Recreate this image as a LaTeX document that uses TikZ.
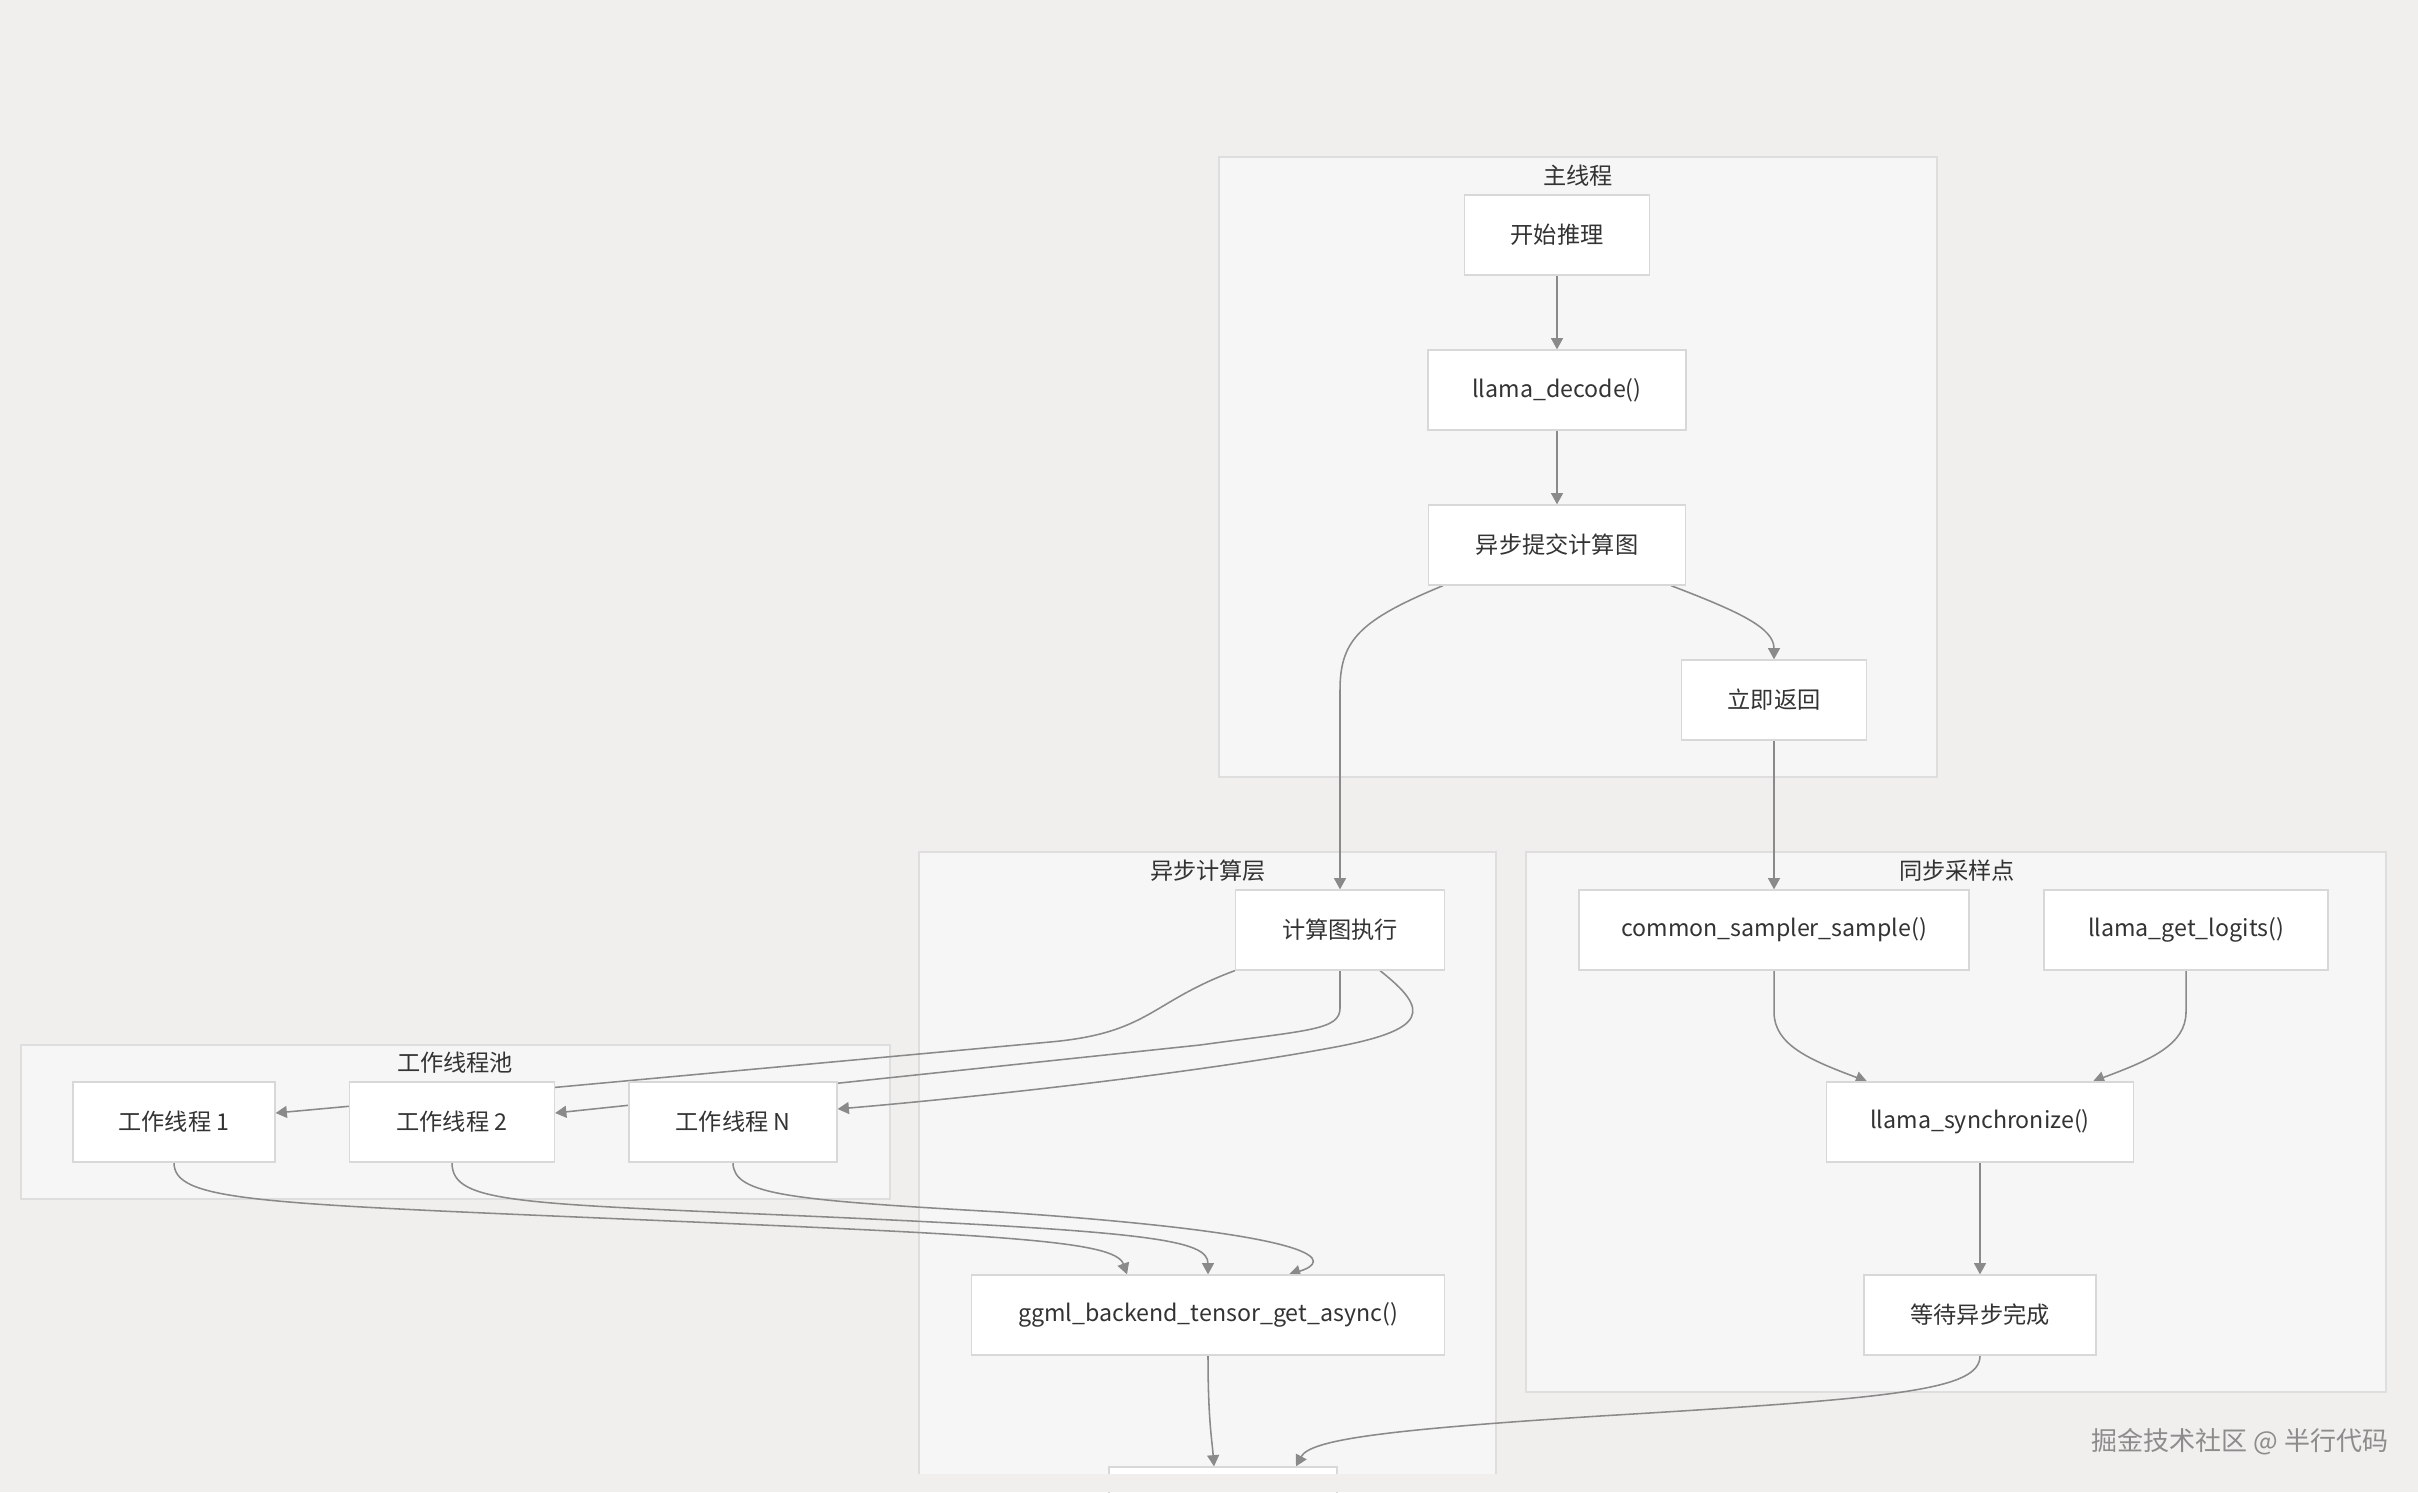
\documentclass[tikz,border=0pt]{standalone}
\usepackage{fontspec}
\setmainfont{Noto Sans CJK SC}
\usepackage{tikz}
\usetikzlibrary{arrows.meta, calc}
\pgfdeclarelayer{clusters}
\pgfdeclarelayer{edges}
\pgfsetlayers{clusters,edges,main}

\definecolor{bgcol}{RGB}{240,239,237}
\definecolor{clfill}{RGB}{246,246,246}
\definecolor{clline}{RGB}{222,222,222}
\definecolor{boxline}{RGB}{216,216,216}
\definecolor{edgecol}{RGB}{138,138,138}
\definecolor{txt}{RGB}{51,51,51}
\newcommand{\pxu}{0.025cm}

\tikzset{
  box/.style={draw=boxline, line width=0.9pt, fill=white, minimum height=80*\pxu, inner sep=0pt, text=txt, font=\fontsize{16.5}{20}\selectfont},
  cluster/.style={draw=clline, line width=0.9pt, fill=clfill},
  cltitle/.style={text=txt, font=\fontsize{16.5}{20}\selectfont},
  flow/.style={draw=edgecol, line width=1.1pt, -{Triangle[length=8pt, width=8.5pt]}},
}

\begin{document}
\begin{tikzpicture}[x=\pxu, y=-\pxu]
  \useasboundingbox (0,0) rectangle (2418,1492);
  % Background and subgraph frames
  \begin{pgfonlayer}{clusters}
    \fill[bgcol] (0,0) rectangle (2418,1492);
    \draw[cluster] (1219,157) rectangle (1937,777);
    \draw[cluster] (919,852) rectangle (1496,1485);
    \draw[cluster] (1526,852) rectangle (2386,1392);
    \draw[cluster] (21,1045) rectangle (890,1199);
  \end{pgfonlayer}
  \node[cltitle] (tmain) at (1578,176) {主线程};
  \node[cltitle] (tasync) at (1208,871) {异步计算层};
  \node[cltitle] (tsync) at (1957,871) {同步采样点};
  \node[cltitle] (tpool) at (455,1063) {工作线程池};

  % Main thread
  \node[box, minimum width=185*\pxu] (start) at (1557,235) {开始推理};
  \node[box, minimum width=258*\pxu] (decode) at (1557,390) {llama\_decode()};
  \node[box, minimum width=257*\pxu] (submit) at (1557,545) {异步提交计算图};
  \node[box, minimum width=185*\pxu] (ret) at (1774,700) {立即返回};

  % Async layer
  \node[box, minimum width=209*\pxu] (exec) at (1340,930) {计算图执行};
  \node[box, minimum width=473*\pxu] (ggml) at (1208,1315) {ggml\_backend\_tensor\_get\_async()};
  \node[box, minimum width=228*\pxu] (fin) at (1223,1507) {};

  % Worker pool
  \node[box, minimum width=202*\pxu] (wone) at (174,1122) {工作线程 1};
  \node[box, minimum width=205*\pxu] (wtwo) at (452,1122) {工作线程 2};
  \node[box, minimum width=208*\pxu] (wn) at (733,1122) {工作线程 N};

  % Sync point
  \node[box, minimum width=390*\pxu] (sample) at (1774,930) {common\_sampler\_sample()};
  \node[box, minimum width=284*\pxu] (logits) at (2186,930) {llama\_get\_logits()};
  \node[box, minimum width=307*\pxu] (sync) at (1980,1122) {llama\_synchronize()};
  \node[box, minimum width=232*\pxu] (wait) at (1980,1315) {等待异步完成};

  % Edges (under the boxes)
  \begin{pgfonlayer}{edges}
    \draw[flow] (start) -- (decode);
    \draw[flow] (decode) -- (submit);
    \draw[flow] ($(submit.south)+(114,0)$) .. controls (1740,612) and (1774,628) .. (ret.north);
    \draw[flow] ($(submit.south)+(-114,0)$) .. controls (1360,620) and (1340,640) .. (1340,690) -- (exec.north);
    \draw[flow] (ret) -- (sample);

    \draw[flow] (exec.south west) .. controls (1150,1002) and (1150,1033) .. (1050,1042) -- ($(wone.east)+(0,-9)$);
    \draw[flow] (exec.south) -- (1340,1008) .. controls (1340,1030) and (1310,1030) .. (1200,1045) -- ($(wtwo.east)+(0,-9)$);
    \draw[flow] ($(exec.south)+(40,0)$) .. controls (1430,1010) and (1430,1030) .. (1330,1048) .. controls (1200,1072) and (1000,1095) .. ($(wn.east)+(0,-13)$);

    \draw[flow] (wone.south) .. controls (174,1200) and (250,1203) .. (600,1218) .. controls (1000,1235) and (1115,1240) .. ($(ggml.north)+(-81,0)$);
    \draw[flow] (wtwo.south) .. controls (452,1205) and (520,1203) .. (850,1218) .. controls (1150,1232) and (1208,1240) .. (ggml.north);
    \draw[flow] (wn.south) .. controls (733,1195) and (790,1200) .. (1000,1212) .. controls (1340,1235) and (1330,1262) .. ($(ggml.north)+(81,0)$);

    \draw[flow] (ggml.south) .. controls (1208,1420) and (1212,1440) .. ($(fin.north)+(-9,0)$);
    \draw[flow] (wait.south) .. controls (1980,1390) and (1900,1398) .. (1600,1416) .. controls (1380,1430) and (1310,1440) .. ($(fin.north)+(73,0)$);

    \draw[flow] (sample.south) -- (1774,1012) .. controls (1774,1045) and (1810,1060) .. ($(sync.north)+(-113,0)$);
    \draw[flow] (logits.south) -- (2186,1012) .. controls (2186,1045) and (2150,1060) .. ($(sync.north)+(113,0)$);
    \draw[flow] (sync) -- (wait);
  \end{pgfonlayer}

  % Cut-off strip at the bottom
  \fill[bgcol] (0,1474) rectangle (2418,1492);

  % Watermark
  \node[text=black!45, font=\fontsize{18.5}{20}\selectfont] (mark) at (2240,1442) {掘金技术社区 @ 半行代码};
\end{tikzpicture}
\end{document}
